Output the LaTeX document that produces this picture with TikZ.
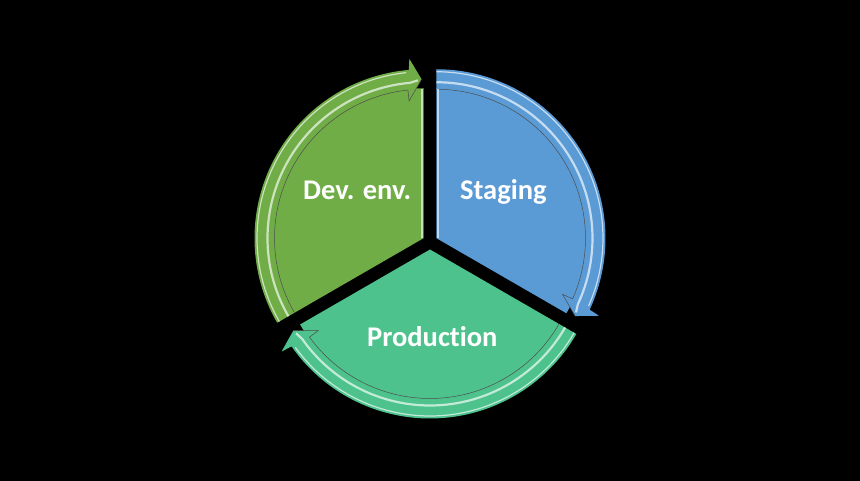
\documentclass[tikz,border=0pt]{standalone}
\usepackage{fontspec}
\setmainfont{Carlito}[Ligatures=NoCommon]
\definecolor{devgreen}{HTML}{70AD47}
\definecolor{stgblue}{HTML}{5B9BD5}
\definecolor{prdgreen}{HTML}{4EC28D}
\begin{document}
\begin{tikzpicture}[x=1pt, y=1pt,
    lbl/.style={text=white, font=\bfseries\fontsize{28.5}{30}\selectfont, inner sep=0pt},
    rim/.style={black!70, line width=0.5pt}]
    % --- Background ---
    \fill[black] (-430,-239) rectangle (430,242);

    % --- Segments: start angle / colour / name ---
    \foreach \s/\col/\name in {210/devgreen/dev, 90/stgblue/stg, -30/prdgreen/prd} {
      \begin{scope}[shift={(\s-60:7.5)}]
        \coordinate (\name-c) at (0,0);
        % face of the segment
        \fill[\col] (0,0) -- (\s:150) arc[start angle=\s, end angle=\s-120, radius=150] -- cycle;
        % arc band with its arrow head
        \fill[\col] (\s:169) arc[start angle=\s, end angle=\s-115, radius=169]
          -- (\s-115.5:180) -- (\s-119.3:159) -- (\s-114:138) -- (\s-114:149)
          arc[start angle=\s-114, end angle=\s, radius=149] -- cycle;
        % highlights on the band
        \draw[\col!35!white, line width=1.2pt] (\s:166.5) arc[start angle=\s, end angle=\s-114, radius=166.5];
        \draw[\col!35!white, line width=2.2pt] (\s:156) arc[start angle=\s, end angle=\s-115, radius=156]
          -- (\s-118:158);
        % thin dark rim
        \draw[rim] (\s:149) arc[start angle=\s, end angle=\s-114, radius=149]
          -- (\s-114:138) -- (\s-119.3:159);
      \end{scope}
    }

    % --- Light edges next to the top gap ---
    \draw[devgreen!40!white, line width=2.5pt] ([xshift=-1.5pt]dev-c) -- ++(0,149);
    \draw[stgblue!40!white, line width=2.5pt] ([xshift=1.5pt]stg-c) -- ++(0,149);

    % --- Labels ---
    \node[lbl] (dev) at (-72.8, 52) {Dev. env.};
    \node[lbl] (stg) at (73.3, 50) {Staging};
    \node[lbl] (prd) at (2.3, -94.7) {Production};
\end{tikzpicture}
\end{document}
